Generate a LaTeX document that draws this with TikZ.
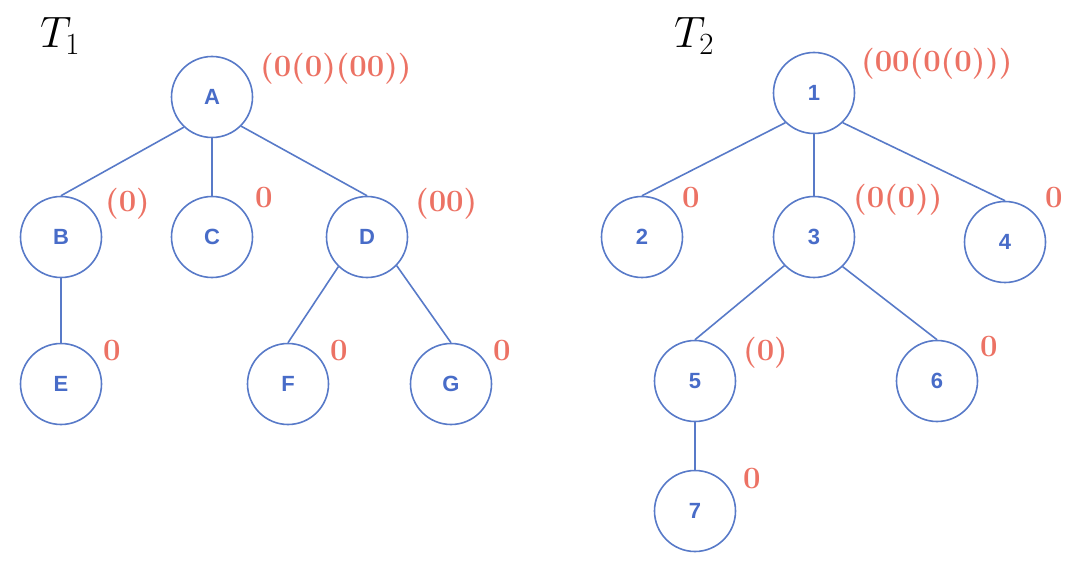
\RequirePackage{fix-cm}
\documentclass[tikz,border=0pt]{standalone}
\usepackage{fontspec}
\newfontfamily\nodefont{Liberation Sans}
\definecolor{lineblue}{RGB}{88,122,200}
\definecolor{textblue}{RGB}{72,108,200}
\definecolor{lred}{RGB}{236,114,100}
\begin{document}
\begin{tikzpicture}[x=1pt,y=-1pt,
  vert/.style={circle,draw=lineblue,line width=1.6pt,minimum size=81pt,inner sep=0pt,
    text=textblue,font=\nodefont\bfseries\fontsize{22}{26}\selectfont},
  lab/.style={anchor=base west,inner sep=0pt,text=lred,font=\bfseries\fontsize{31}{36}\selectfont},
  ttl/.style={anchor=base west,inner sep=0pt,font=\fontsize{44}{52}\selectfont},
  edge/.style={draw=lineblue,line width=1.6pt}]
\useasboundingbox (0,0) rectangle (1073,569);
% T1
\node[ttl] (t1) at (40,48) {$T_1$};
\node[vert] (A) at (212,97) {A};
\node[vert] (B) at (61,237) {B};
\node[vert] (C) at (212,237) {C};
\node[vert] (D) at (367,237) {D};
\node[vert] (E) at (61,384) {E};
\node[vert] (F) at (288,384) {F};
\node[vert] (G) at (451,384) {G};
\draw[edge] (A.-133) -- (B.north);
\draw[edge] (A.south) -- (C.north);
\draw[edge] (A.-45) -- (D.north);
\draw[edge] (B.south) -- (E.north);
\draw[edge] (D.-134) -- (F.north);
\draw[edge] (D.-44) -- (G.north);
\node[lab] (lA) at (260,77) {(0(0)(00))};
\node[lab] (lB) at (105,212) {(0)};
\node[lab] (lC) at (255,208) {0};
\node[lab] (lD) at (415,212) {(00)};
\node[lab] (lE) at (103,360) {0};
\node[lab] (lF) at (330,360) {0};
\node[lab] (lG) at (493,360) {0};
% T2
\node[ttl] (t2) at (674,48) {$T_2$};
\node[vert] (n1) at (814,93) {1};
\node[vert] (n2) at (642,237) {2};
\node[vert] (n3) at (814,237) {3};
\node[vert] (n4) at (1005,242) {4};
\node[vert] (n5) at (695,381) {5};
\node[vert] (n6) at (937,381) {6};
\node[vert] (n7) at (695,511) {7};
\draw[edge] (n1.-134) -- (n2.north);
\draw[edge] (n1.south) -- (n3.north);
\draw[edge] (n1.-46) -- (n4.north);
\draw[edge] (n3.-136) -- (n5.north);
\draw[edge] (n3.-46) -- (n6.north);
\draw[edge] (n5.south) -- (n7.north);
\node[lab] (l1) at (861,72) {(00(0(0)))};
\node[lab] (l2) at (682,208) {0};
\node[lab] (l3) at (853,208) {(0(0))};
\node[lab] (l4) at (1045,208) {0};
\node[lab] (l5) at (743,360) {(0)};
\node[lab] (l6) at (980,356) {0};
\node[lab] (l7) at (743,488) {0};
\end{tikzpicture}
\end{document}
